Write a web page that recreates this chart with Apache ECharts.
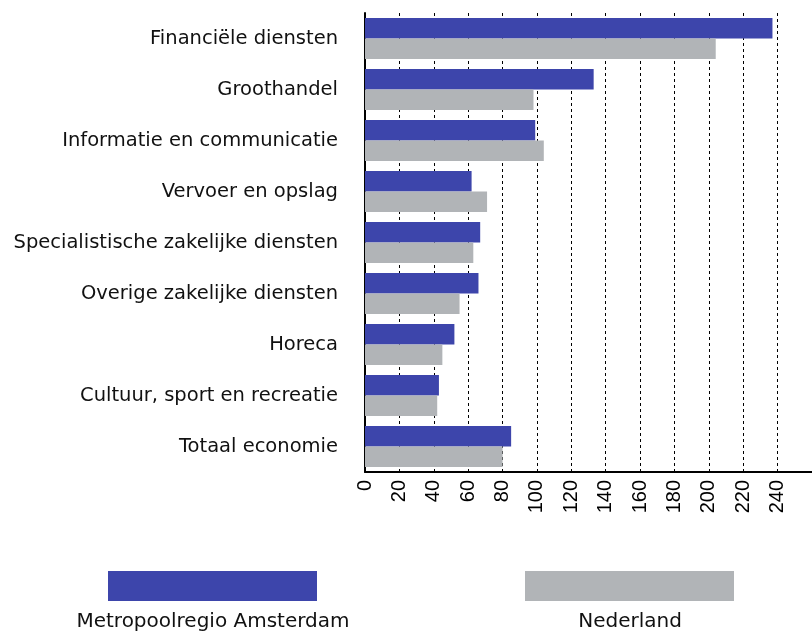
<!DOCTYPE html>
<html>
<head>
<meta charset="utf-8">
<script src="https://cdn.jsdelivr.net/npm/echarts@6/dist/echarts.min.js"></script>
<style>
html, body { margin: 0; padding: 0; background: #fff; }
#chart { width: 812px; height: 634px; }
</style>
</head>
<body>
<div id="chart"></div>
<script>
// categorieen, van boven naar beneden
var sectoren = [
    'Financiële diensten',
    'Groothandel',
    'Informatie en communicatie',
    'Vervoer en opslag',
    'Specialistische zakelijke diensten',
    'Overige zakelijke diensten',
    'Horeca',
    'Cultuur, sport en recreatie',
    'Totaal economie'
];
var mraWaarden = [237, 133, 99, 62, 67, 66, 52, 43, 85];
var nlWaarden = [204, 98, 104, 71, 63, 55, 45, 42, 80];
var reeksNamen = ['Metropoolregio Amsterdam', 'Nederland'];
var kleuren = ['#3d45ab', '#b1b4b7'];

var myChart = echarts.init(document.getElementById('chart'));

var option = {
    animation: false,
    grid: {
        left: 365,
        top: 13,
        width: 452,
        height: 459
    },
    legend: { show: false },
    xAxis: {
        type: 'value',
        min: 0,
        max: 260,
        interval: 20,
        axisLine: { show: true, lineStyle: { color: '#000', width: 2 } },
        axisTick: { show: false },
        axisLabel: {
            rotate: 90,
            margin: 8,
            fontFamily: 'Liberation Sans',
            fontSize: 20,
            color: '#000',
            formatter: function (v) { return v > 240 ? '' : v; }
        },
        splitLine: {
            show: true,
            lineStyle: { color: '#000', type: [3, 3], width: 1 }
        }
    },
    yAxis: {
        type: 'category',
        inverse: true,
        data: sectoren,
        axisLine: { show: true, lineStyle: { color: '#000', width: 2 } },
        axisTick: { show: false },
        axisLabel: {
            margin: 27,
            fontFamily: 'DejaVu Sans',
            fontSize: 19.5,
            color: '#111'
        }
    },
    series: [
        {
            name: reeksNamen[0],
            type: 'bar',
            data: mraWaarden,
            barGap: '0%',
            barCategoryGap: '20%',
            itemStyle: { color: kleuren[0] }
        },
        {
            name: reeksNamen[1],
            type: 'bar',
            data: nlWaarden,
            itemStyle: { color: kleuren[1] }
        }
    ],
    graphic: [
        { type: 'rect', left: 108, top: 571, shape: { width: 209, height: 30 }, style: { fill: kleuren[0] } },
        { type: 'rect', left: 525, top: 571, shape: { width: 209, height: 30 }, style: { fill: kleuren[1] } },
        {
            type: 'text', x: 213, y: 622,
            style: { text: reeksNamen[0], fontFamily: 'DejaVu Sans', fontSize: 20, fill: '#111', align: 'center', verticalAlign: 'middle' }
        },
        {
            type: 'text', x: 630, y: 622,
            style: { text: reeksNamen[1], fontFamily: 'DejaVu Sans', fontSize: 20, fill: '#111', align: 'center', verticalAlign: 'middle' }
        }
    ]
};

myChart.setOption(option);
</script>
</body>
</html>
